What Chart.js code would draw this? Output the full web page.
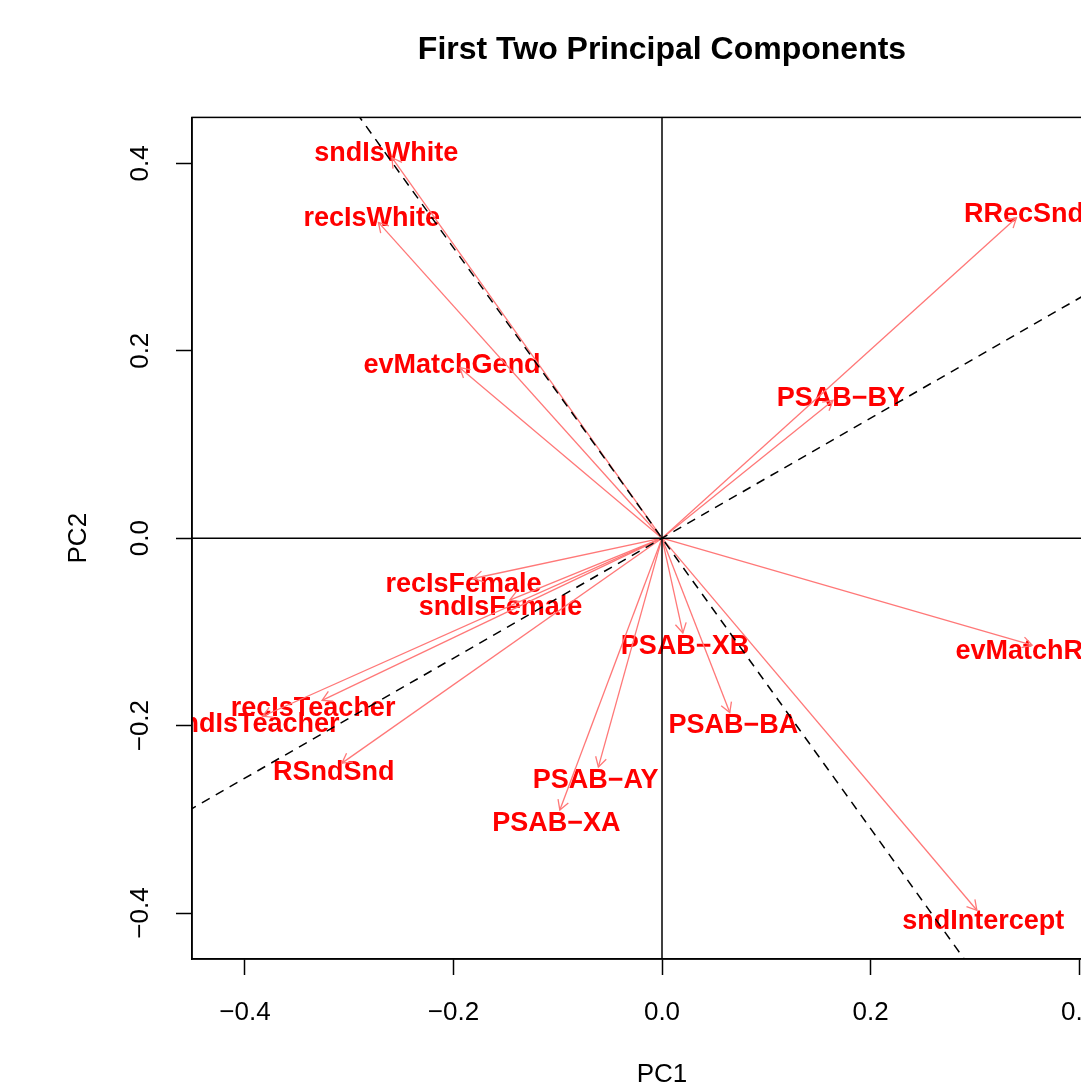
<!DOCTYPE html>
<html>
<head>
<meta charset="utf-8">
<script src="https://cdn.jsdelivr.net/npm/chart.js@4.4.1/dist/chart.umd.min.js"></script>
<style>
  html, body { margin: 0; padding: 0; background: #fff; overflow: hidden; }
</style>
</head>
<body>
<canvas id="graficoPCA" width="1324" height="1085"></canvas>
<script>
// ------------------------------------------------ DATOS ------------------------------------------------

    const variables = ["sndIsWhite", "recIsWhite", "evMatchGend", "RRecSnd", "PSAB\u2212BY",
        "recIsFemale", "sndIsFemale", "recIsTeacher", "sndIsTeacher", "RSndSnd",
        "PSAB\u2212XB", "PSAB\u2212BA", "PSAB\u2212AY", "PSAB\u2212XA", "evMatchRace", "sndIntercept"];
    const pc1 = [-0.259, -0.272, -0.194, 0.340, 0.164, -0.181, -0.146, -0.326, -0.383, -0.307,
        0.020, 0.065, -0.061, -0.098, 0.355, 0.302];
    const pc2 = [0.406, 0.337, 0.182, 0.342, 0.147, -0.043, -0.066, -0.173, -0.190, -0.240,
        -0.101, -0.186, -0.244, -0.290, -0.114, -0.397];

    const xTicks = [-0.4, -0.2, 0, 0.2, 0.4];
    const yTicks = [-0.4, -0.2, 0, 0.2, 0.4];
    const pendientes = [-1.549, 0.640];   // rectas discontinuas por el origen
    const xLim = [-0.4508, 0.4508];
    const yLim = [-0.449, 0.449];

    const colorFlecha = '#ff7878';
    const fuente = '"Liberation Sans", Arial, Helvetica, sans-serif';
    const fmt = v => Math.abs(v) < 1e-9 ? '0.0' : v.toFixed(1).replace('-', '\u2212');

// ------------------------------------------------ DATASETS ------------------------------------------------

    const datasets = [];

    // ejes en cero
    datasets.push({ data: [{ x: xLim[0], y: 0 }, { x: xLim[1], y: 0 }], borderColor: '#000', borderWidth: 1.5, order: 1 });
    datasets.push({ data: [{ x: 0, y: yLim[0] }, { x: 0, y: yLim[1] }], borderColor: '#000', borderWidth: 1.5, order: 1 });

    // rectas discontinuas
    pendientes.forEach(m => {
        datasets.push({
            data: [{ x: -1, y: -m }, { x: 1, y: m }],
            borderColor: '#000', borderWidth: 1.5, borderDash: [9, 7], order: 1
        });
    });

    // flechas
    variables.forEach((v, i) => {
        datasets.push({
            data: [{ x: 0, y: 0 }, { x: pc1[i], y: pc2[i] }],
            borderColor: colorFlecha, borderWidth: 1.3, order: 2
        });
    });

// ------------------------------------------------ PLUGIN ------------------------------------------------

    const decoracion = {
        id: 'decoracion',
        beforeDatasetsDraw(chart) {
            const { ctx, chartArea: a, scales: { x, y } } = chart;
            const x0 = x.getPixelForValue(0), y0 = y.getPixelForValue(0);
            ctx.save();
            ctx.beginPath();
            ctx.rect(a.left, a.top, a.right - a.left, a.bottom - a.top);
            ctx.clip();
            ctx.font = 'bold 27px ' + fuente;
            ctx.fillStyle = '#ff0000';
            ctx.textAlign = 'center';
            ctx.textBaseline = 'middle';
            variables.forEach((v, i) => {
                const px = x.getPixelForValue(pc1[i]), py = y.getPixelForValue(pc2[i]);
                const d = Math.hypot(px - x0, py - y0);
                ctx.fillText(v, px + 10 * (px - x0) / d, py + 10 * (py - y0) / d + 4);
            });
            ctx.restore();
        },
        afterDatasetsDraw(chart) {
            const { ctx, chartArea: a, scales: { x, y } } = chart;
            const x0 = x.getPixelForValue(0), y0 = y.getPixelForValue(0);
            ctx.save();
            // puntas de flecha
            ctx.strokeStyle = colorFlecha;
            ctx.lineWidth = 1.3;
            variables.forEach((v, i) => {
                const px = x.getPixelForValue(pc1[i]), py = y.getPixelForValue(pc2[i]);
                const ang = Math.atan2(py - y0, px - x0);
                ctx.beginPath();
                ctx.moveTo(px - 11 * Math.cos(ang - Math.PI / 6), py - 11 * Math.sin(ang - Math.PI / 6));
                ctx.lineTo(px, py);
                ctx.lineTo(px - 11 * Math.cos(ang + Math.PI / 6), py - 11 * Math.sin(ang + Math.PI / 6));
                ctx.stroke();
            });
            // caja
            ctx.strokeStyle = '#000';
            ctx.lineWidth = 1.5;
            ctx.strokeRect(a.left, a.top, a.right - a.left, a.bottom - a.top);
            ctx.restore();
        },
        afterDraw(chart) {
            const { ctx, chartArea: a, scales: { x, y } } = chart;
            ctx.save();
            ctx.fillStyle = '#000';
            ctx.font = '26px ' + fuente;
            ctx.textAlign = 'center';
            ctx.textBaseline = 'middle';
            // etiquetas del eje y, giradas
            yTicks.forEach(v => {
                ctx.save();
                ctx.translate(141, y.getPixelForValue(v));
                ctx.rotate(-Math.PI / 2);
                ctx.fillText(fmt(v), 0, 0);
                ctx.restore();
            });
            // titulos de ejes
            ctx.fillText('PC1', (a.left + a.right) / 2, 1075);
            ctx.save();
            ctx.translate(79, (a.top + a.bottom) / 2);
            ctx.rotate(-Math.PI / 2);
            ctx.fillText('PC2', 0, 0);
            ctx.restore();
            ctx.restore();
        }
    };

// ------------------------------------------------ GRAFICO ------------------------------------------------

    const configPCA = {
        type: 'line',
        data: { datasets },
        options: {
            responsive: false,
            animation: false,
            devicePixelRatio: 1,
            elements: { point: { radius: 0, hoverRadius: 0 }, line: { tension: 0, fill: false } },
            plugins: {
                legend: { display: false },
                tooltip: { enabled: false },
                title: {
                    display: true,
                    text: 'First Two Principal Components',
                    color: '#000',
                    font: { size: 32, weight: 'bold', family: fuente },
                    padding: { top: 31, bottom: 48 }
                }
            },
            scales: {
                x: {
                    type: 'linear',
                    min: xLim[0], max: xLim[1],
                    afterBuildTicks: s => { s.ticks = xTicks.map(v => ({ value: v })); },
                    afterFit: s => { s.height = 126; },
                    grid: { drawOnChartArea: false, drawTicks: true, tickLength: 16, tickWidth: 1.5, tickColor: '#000', color: '#000' },
                    border: { display: true, color: '#000', width: 1.5 },
                    ticks: {
                        autoSkip: false, maxRotation: 0, padding: 22, color: '#000',
                        font: { size: 26, family: fuente },
                        callback: v => fmt(v)
                    }
                },
                y: {
                    type: 'linear',
                    min: yLim[0], max: yLim[1],
                    afterBuildTicks: s => { s.ticks = yTicks.map(v => ({ value: v })); },
                    afterFit: s => { s.width = 192; },
                    grid: { drawOnChartArea: false, drawTicks: true, tickLength: 16, tickWidth: 1.5, tickColor: '#000', color: '#000' },
                    border: { display: true, color: '#000', width: 1.5 },
                    ticks: { display: false }
                },
                // margen derecho (reserva espacio para centrar el titulo sobre el panel)
                margenDer: {
                    type: 'linear',
                    position: 'right',
                    min: yLim[0], max: yLim[1],
                    afterFit: s => { s.width = 192; },
                    grid: { display: false },
                    border: { display: false },
                    ticks: { display: false }
                }
            }
        },
        plugins: [decoracion]
    };

    var pcaChart = new Chart(document.getElementById('graficoPCA'), configPCA);
</script>
</body>
</html>
